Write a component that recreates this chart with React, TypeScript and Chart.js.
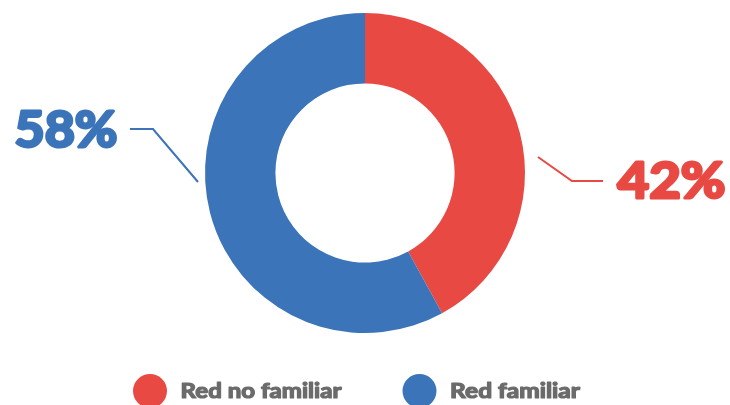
import React, { useEffect, useRef } from "react";
import { Chart, registerables } from "chart.js";

Chart.register(...registerables);

const categories = ["Red no familiar", "Red familiar"];
const values = [42, 58];
const valueLabels = ["42%", "58%"];
const colors = ["#E84942", "#3B74B8"];

function fitText(ctx: any, text: string, x: number, y: number, width: number, align: "left" | "right", stroke: number) {
  const w = ctx.measureText(text).width;
  const s = (width - stroke) / w;
  ctx.save();
  ctx.textAlign = "left";
  const x0 = (align === "left" ? x : x - width) + stroke / 2;
  ctx.translate(x0, y);
  ctx.scale(s, 1);
  ctx.lineJoin = "round";
  ctx.strokeStyle = ctx.fillStyle;
  ctx.lineWidth = stroke;
  ctx.fillText(text, 0, 0);
  if (stroke > 0) ctx.strokeText(text, 0, 0);
  ctx.restore();
}

const labelPlugin = {
  id: "customLabels",
  afterDraw(chart: any) {
    const ctx = chart.ctx;
    const arc = chart.getDatasetMeta(0).data[0];
    if (!arc) return;
    const cx = arc.x;
    const cy = arc.y;
    const r = arc.outerRadius;
    ctx.save();
    ctx.lineWidth = 2;
    ctx.strokeStyle = colors[0];
    ctx.beginPath();
    ctx.moveTo(cx + r + 13, cy - 16);
    ctx.lineTo(cx + r + 47, cy + 8);
    ctx.lineTo(cx + r + 78, cy + 8);
    ctx.stroke();
    ctx.strokeStyle = colors[1];
    ctx.beginPath();
    ctx.moveTo(cx - r - 7, cy + 9);
    ctx.lineTo(cx - r - 52, cy - 44);
    ctx.lineTo(cx - r - 75, cy - 44);
    ctx.stroke();
    ctx.font = "bold 49px Lato, 'Open Sans', sans-serif";
    ctx.textBaseline = "alphabetic";
    ctx.fillStyle = colors[0];
    fitText(ctx, valueLabels[0], cx + r + 91, cy + 25, 111, "left", 3);
    ctx.fillStyle = colors[1];
    fitText(ctx, valueLabels[1], cx - r - 86, cy - 26, 106, "right", 3);
    const legendX = [150, 419.5];
    const legendWidths = [162, 131];
    const legendY = 391;
    ctx.font = "bold 20px Lato, 'Open Sans', sans-serif";
    categories.forEach((c, i) => {
      ctx.fillStyle = colors[i];
      ctx.beginPath();
      ctx.arc(legendX[i], legendY, 17, 0, Math.PI * 2);
      ctx.fill();
      ctx.fillStyle = "#6B6B6B";
      fitText(ctx, c, legendX[i] + 30, 397.5, legendWidths[i], "left", 1.2);
    });
    ctx.restore();
  },
};

export default function App() {
  const ref = useRef<HTMLCanvasElement | null>(null);
  useEffect(() => {
    if (!ref.current) return;
    const chart = new Chart(ref.current, {
      type: "doughnut",
      data: {
        labels: categories,
        datasets: [
          {
            data: values,
            backgroundColor: colors,
            borderWidth: 0,
          },
        ],
      },
      options: {
        animation: false,
        responsive: false,
        cutout: "56%",
        layout: { padding: { top: 13, bottom: 72, left: 100, right: 100 } },
        plugins: { legend: { display: false }, tooltip: { enabled: false } },
      },
      plugins: [labelPlugin],
    });
    return () => chart.destroy();
  }, []);
  return (
    <div style={{ position: "fixed", left: 0, top: 0, width: 730, height: 405, background: "#fff" }}>
      <canvas ref={ref} width={730} height={405} style={{ display: "block" }} />
    </div>
  );
}
